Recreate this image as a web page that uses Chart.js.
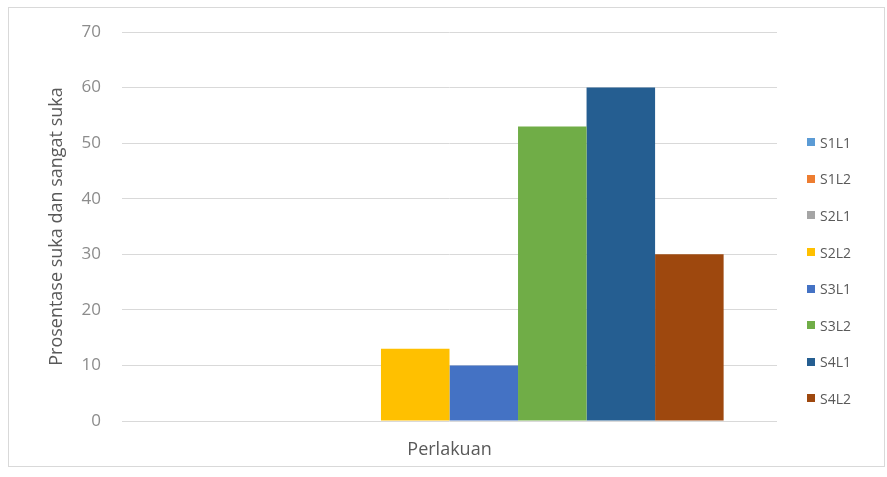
<!DOCTYPE html>
<html>
<head>
<meta charset="utf-8">
<script src="https://cdn.jsdelivr.net/npm/chart.js@4"></script>
<style>
  body { margin: 0; background: #fff; }
  #wrap { position: relative; width: 887px; height: 477px; }
  #frame { position: absolute; left: 8px; top: 7px; width: 877px; height: 460px; border: 1px solid #d9d9d9; box-sizing: border-box; }
  #legend { position: absolute; left: 807px; top: 124px; font-family: "Open Sans", sans-serif; font-size: 14px; color: #595959; }
  #legend div { height: 36.6px; display: flex; align-items: center; }
  #legend span { display: inline-block; width: 8px; height: 8px; margin-right: 5px; }
</style>
</head>
<body>
<div id="wrap">
  <div id="frame"></div>
  <canvas id="chart" width="887" height="477"></canvas>
  <div id="legend"></div>
</div>
<script>
const categories = ["Perlakuan"];
const seriesNames = ["S1L1", "S1L2", "S2L1", "S2L2", "S3L1", "S3L2", "S4L1", "S4L2"];
const seriesValues = [[0], [0], [0], [13], [10], [53], [60], [30]];
const seriesColors = ["#5B9BD5", "#ED7D31", "#A5A5A5", "#FFC000", "#4472C4", "#70AD47", "#255E91", "#9E480E"];
const yTicks = [0, 10, 20, 30, 40, 50, 60, 70];

const datasets = seriesNames.map((name, i) => ({
    label: name,
    data: seriesValues[i],
    backgroundColor: seriesColors[i],
    borderWidth: 0
}));

// legend drawn as html next to the canvas
document.getElementById("legend").innerHTML = seriesNames.map((name, i) =>
    `<div><span style="background:${seriesColors[i]}"></span>${name}</div>`
).join("");

new Chart(document.getElementById("chart"), {
    type: 'bar',
    data: { labels: categories, datasets: datasets },
    options: {
        responsive: false,
        animation: false,
        layout: { padding: { left: 8, right: 110, top: 32, bottom: 10 } },
        datasets: { bar: { categoryPercentage: 0.837, barPercentage: 1 } },
        plugins: { legend: { display: false }, tooltip: { enabled: false } },
        scales: {
            x: {
                grid: { display: false },
                border: { display: false },
                ticks: { color: "#595959", padding: 10, font: { family: "Open Sans", size: 18 } },
                afterFit: s => { s.height = 477 - 421 - 10; }
            },
            y: {
                min: 0,
                max: 70,
                afterBuildTicks: s => { s.ticks = yTicks.map(v => ({ value: v })); },
                grid: { color: "#d9d9d9", drawTicks: false },
                border: { display: false },
                ticks: { color: "#8c8c8c", padding: 21, font: { family: "Open Sans", size: 17 } },
                title: {
                    display: true,
                    text: "Prosentase suka dan sangat suka",
                    color: "#595959",
                    font: { family: "Open Sans", size: 18 },
                    padding: { top: 38, bottom: 0 }
                },
                afterFit: s => { s.width = 122 - 8; }
            }
        }
    }
});
</script>
</body>
</html>
